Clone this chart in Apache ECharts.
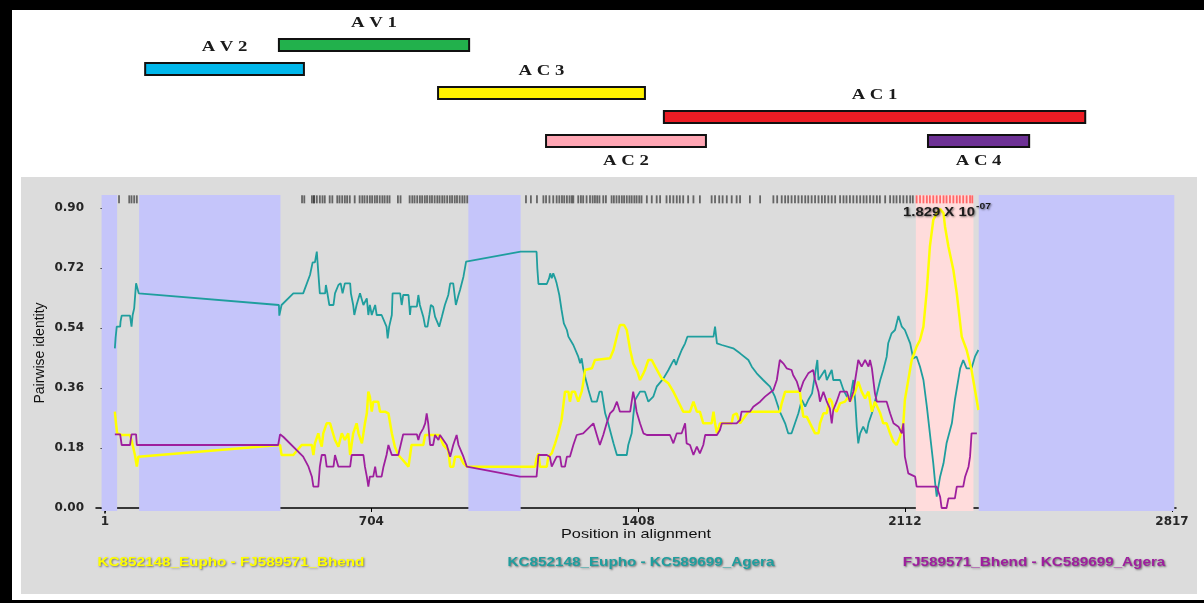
<!DOCTYPE html>
<html><head><meta charset="utf-8">
<script src="https://cdn.jsdelivr.net/npm/echarts@6/dist/echarts.min.js"></script>
<style>html,body{margin:0;padding:0;background:#fff;}#c{width:1204px;height:603px;}</style>
</head><body><div id="c"></div>
<script>
// ---------- data ----------
const xTicks = [1, 704, 1408, 2112, 2817];
const yTicks = [0, 0.18, 0.36, 0.54, 0.72, 0.90];
const pairNames = ['KC852148_Eupho - FJ589571_Bhend', 'KC852148_Eupho - KC589699_Agera', 'FJ589571_Bhend - KC589699_Agera'];

const geneLabels = ['A V 1', 'A V 2', 'A C 3', 'A C 1', 'A C 2', 'A C 4'];
const geneStart = [460, 107, 880, 1476, 1165, 2173];
const geneEnd   = [962, 526, 1426, 2588, 1587, 2440];
const geneRow   = [1, 2, 3, 4, 5, 5];

const unusedRegions = [[-8, 33], [91, 464], [960, 1098], [2307, 2823]];
const recombRegion = [2141, 2293];
const pValueText = '1.829 X 10';
const pValueExp = '-07';

const siteTicks = [38, 65, 71, 78, 85, 552,
 521, 527, 547, 553, 560, 568, 575, 581, 594, 601, 614, 620, 627, 634, 640, 647, 660, 673, 680, 686, 693, 700, 706, 713, 719, 726, 733, 739, 746, 752, 774, 781, 805, 812, 818, 825, 832, 838, 845, 851, 858, 864, 871, 878, 884, 891, 897, 904, 911, 917, 924, 930, 937, 944, 950, 957,
 1112, 1125, 1141, 1158, 1165, 1174, 1184, 1193, 1200, 1207, 1213, 1220, 1227, 1233, 1237, 1250, 1257, 1263, 1272, 1281, 1288, 1294, 1300, 1306, 1316, 1323, 1338, 1344, 1351, 1358, 1365, 1371, 1378, 1385, 1391, 1398, 1404, 1411, 1417, 1431, 1444, 1457, 1466, 1483, 1492, 1501, 1510, 1518, 1527, 1540, 1554, 1571, 1602, 1611, 1622, 1631, 1642, 1655, 1668, 1677, 1703, 1730, 1765, 1775, 1787, 1796, 1804, 1813, 1822, 1831, 1840, 1849, 1857, 1866, 1875, 1884, 1893, 1901, 1910, 1919, 1928, 1941, 1950, 1958, 1967, 1976, 1985, 1994, 2003, 2011, 2020, 2029, 2038, 2046, 2060, 2073, 2082, 2090, 2099, 2108, 2117, 2126, 2133];
const recombTicks = [2143, 2152, 2161, 2170, 2178, 2187, 2196, 2205, 2214, 2222, 2231, 2240, 2249, 2257, 2266, 2275, 2284, 2290];

const tealData = [[27,0.479],[29,0.511],[32,0.544],[41,0.544],[42,0.559],[45,0.577],[67,0.577],[71,0.544],[74,0.579],[78,0.599],[83,0.674],[86,0.674],[90,0.644],
[460,0.609],[461,0.577],[467,0.609],[498,0.644],[524,0.644],[542,0.699],[549,0.737],[555,0.737],[560,0.769],[562,0.737],[566,0.674],[568,0.644],[582,0.644],[584,0.669],[588,0.644],[593,0.609],[604,0.609],[608,0.644],[617,0.669],[623,0.674],[628,0.644],[634,0.674],[648,0.674],[650,0.644],[656,0.609],[659,0.579],[665,0.609],[674,0.644],[683,0.609],[692,0.629],[696,0.579],[700,0.609],[705,0.579],[714,0.609],[718,0.579],[731,0.579],[744,0.544],[747,0.509],[751,0.544],[758,0.579],[760,0.644],[780,0.644],[784,0.609],[788,0.639],[802,0.639],[806,0.579],[808,0.604],[824,0.604],[828,0.639],[832,0.609],[837,0.609],[841,0.574],[846,0.544],[852,0.544],[857,0.579],[861,0.609],[867,0.604],[872,0.574],[876,0.574],[883,0.544],[890,0.574],[898,0.609],[907,0.639],[912,0.674],[920,0.674],[927,0.609],[934,0.639],[938,0.654],[947,0.694],[954,0.739],
[1098,0.769],[1140,0.769],[1142,0.719],[1145,0.672],[1167,0.672],[1173,0.689],[1176,0.704],[1180,0.689],[1184,0.704],[1189,0.689],[1193,0.674],[1200,0.639],[1206,0.594],[1212,0.554],[1220,0.534],[1224,0.514],[1237,0.489],[1250,0.454],[1255,0.434],[1259,0.449],[1263,0.419],[1268,0.394],[1277,0.354],[1286,0.319],[1299,0.319],[1306,0.349],[1312,0.349],[1316,0.319],[1321,0.284],[1329,0.254],[1343,0.194],[1352,0.159],[1378,0.159],[1382,0.189],[1391,0.224],[1395,0.274],[1400,0.324],[1413,0.349],[1426,0.349],[1435,0.319],[1448,0.334],[1457,0.364],[1475,0.389],[1488,0.414],[1497,0.434],[1503,0.446],[1508,0.429],[1514,0.449],[1523,0.474],[1532,0.494],[1538,0.514],[1607,0.514],[1611,0.544],[1616,0.494],[1629,0.489],[1659,0.479],[1677,0.464],[1699,0.444],[1708,0.424],[1721,0.404],[1738,0.384],[1756,0.364],[1769,0.334],[1782,0.289],[1796,0.254],[1804,0.224],[1813,0.224],[1822,0.254],[1831,0.284],[1840,0.324],[1849,0.304],[1857,0.324],[1867,0.344],[1881,0.444],[1884,0.384],[1901,0.414],[1906,0.384],[1919,0.414],[1923,0.384],[1941,0.384],[1950,0.354],[1959,0.334],[1967,0.324],[1976,0.384],[1981,0.319],[1985,0.244],[1989,0.194],[1994,0.224],[2002,0.244],[2011,0.224],[2016,0.254],[2025,0.284],[2033,0.319],[2047,0.384],[2055,0.414],[2064,0.454],[2068,0.494],[2077,0.524],[2086,0.534],[2095,0.576],[2104,0.544],[2112,0.534],[2126,0.494],[2134,0.449],[2143,0.454],[2152,0.424],[2161,0.384],[2170,0.304],[2178,0.224],[2187,0.134],[2192,0.074],[2196,0.034],[2200,0.033],[2205,0.094],[2214,0.134],[2222,0.194],[2236,0.254],[2244,0.324],[2258,0.419],[2266,0.444],[2271,0.449],[2275,0.419],[2288,0.419],[2297,0.454],[2306,0.474]];

const yellowData = [[27,0.289],[30,0.254],[33,0.224],[45,0.219],[67,0.219],[71,0.204],[80,0.159],[85,0.124],[89,0.154],
[463,0.189],[467,0.159],[498,0.159],[520,0.189],[547,0.189],[551,0.159],[555,0.194],[564,0.224],[568,0.204],[573,0.184],[577,0.224],[586,0.254],[595,0.254],[608,0.204],[617,0.184],[626,0.224],[634,0.204],[643,0.224],[648,0.159],[656,0.224],[665,0.254],[670,0.224],[679,0.194],[687,0.254],[692,0.284],[696,0.349],[700,0.334],[705,0.289],[709,0.319],[722,0.319],[727,0.289],[740,0.289],[749,0.284],[758,0.224],[766,0.184],[775,0.159],[787,0.144],[802,0.124],[810,0.189],[841,0.189],[846,0.219],[883,0.219],[894,0.189],[907,0.174],[912,0.124],[920,0.124],[925,0.154],[938,0.154],[947,0.134],[956,0.124],
[1136,0.124],[1140,0.149],[1145,0.164],[1149,0.124],[1167,0.124],[1171,0.154],[1180,0.164],[1189,0.194],[1197,0.224],[1206,0.264],[1215,0.349],[1224,0.349],[1228,0.319],[1233,0.349],[1241,0.349],[1250,0.319],[1259,0.349],[1263,0.374],[1268,0.414],[1286,0.419],[1294,0.444],[1334,0.449],[1343,0.474],[1356,0.534],[1360,0.549],[1371,0.549],[1378,0.534],[1387,0.474],[1395,0.434],[1406,0.409],[1413,0.384],[1422,0.404],[1426,0.414],[1435,0.444],[1444,0.444],[1453,0.424],[1470,0.389],[1488,0.374],[1501,0.349],[1514,0.319],[1527,0.289],[1545,0.289],[1554,0.319],[1563,0.289],[1571,0.289],[1580,0.254],[1602,0.254],[1607,0.289],[1611,0.254],[1616,0.224],[1624,0.254],[1655,0.254],[1659,0.279],[1668,0.284],[1677,0.254],[1699,0.289],[1782,0.289],[1787,0.314],[1796,0.349],[1835,0.349],[1838,0.319],[1844,0.274],[1853,0.274],[1866,0.244],[1875,0.224],[1884,0.224],[1888,0.254],[1897,0.284],[1906,0.284],[1913,0.329],[1919,0.319],[1923,0.299],[1932,0.289],[1941,0.314],[1954,0.319],[1963,0.334],[1967,0.319],[1981,0.349],[1989,0.379],[1998,0.349],[2007,0.329],[2016,0.349],[2025,0.289],[2033,0.319],[2047,0.284],[2055,0.254],[2064,0.254],[2073,0.224],[2082,0.199],[2090,0.189],[2099,0.214],[2108,0.254],[2112,0.324],[2121,0.384],[2130,0.444],[2143,0.484],[2152,0.504],[2161,0.544],[2170,0.654],[2178,0.784],[2187,0.864],[2196,0.884],[2205,0.897],[2214,0.884],[2218,0.844],[2227,0.784],[2240,0.714],[2249,0.644],[2258,0.554],[2262,0.514],[2275,0.474],[2288,0.414],[2297,0.354],[2306,0.294]];

const purpleData = [[27,0.221],[41,0.221],[45,0.189],[67,0.189],[71,0.221],[83,0.221],[85,0.189],
[458,0.189],[463,0.221],[472,0.213],[524,0.154],[538,0.124],[547,0.094],[551,0.064],[564,0.064],[568,0.124],[573,0.159],[582,0.159],[586,0.124],[604,0.124],[608,0.159],[617,0.124],[648,0.124],[652,0.159],[683,0.159],[687,0.124],[692,0.094],[696,0.064],[700,0.094],[709,0.094],[714,0.124],[718,0.094],[731,0.094],[736,0.124],[744,0.159],[749,0.189],[758,0.159],[775,0.159],[788,0.221],[824,0.221],[828,0.204],[832,0.221],[841,0.239],[846,0.254],[850,0.284],[854,0.254],[859,0.189],[867,0.189],[872,0.219],[881,0.204],[885,0.219],[894,0.204],[903,0.189],[912,0.154],[920,0.189],[929,0.219],[934,0.189],[938,0.189],[947,0.154],[956,0.124],
[1096,0.094],[1140,0.094],[1145,0.159],[1167,0.159],[1175,0.154],[1180,0.124],[1184,0.124],[1193,0.154],[1202,0.154],[1206,0.124],[1215,0.124],[1220,0.154],[1228,0.154],[1237,0.189],[1246,0.219],[1263,0.224],[1281,0.244],[1290,0.254],[1299,0.219],[1307,0.189],[1316,0.219],[1325,0.254],[1334,0.284],[1343,0.294],[1352,0.319],[1360,0.289],[1387,0.289],[1395,0.349],[1400,0.319],[1404,0.289],[1413,0.254],[1422,0.224],[1431,0.219],[1492,0.219],[1501,0.194],[1510,0.224],[1523,0.224],[1532,0.254],[1536,0.194],[1545,0.189],[1554,0.159],[1563,0.184],[1571,0.164],[1580,0.189],[1585,0.219],[1616,0.219],[1624,0.234],[1629,0.254],[1668,0.254],[1677,0.264],[1681,0.289],[1703,0.289],[1712,0.304],[1730,0.319],[1743,0.334],[1765,0.354],[1774,0.384],[1782,0.444],[1791,0.434],[1800,0.419],[1813,0.414],[1817,0.399],[1827,0.379],[1835,0.349],[1844,0.379],[1857,0.404],[1870,0.414],[1875,0.384],[1884,0.349],[1888,0.319],[1897,0.349],[1906,0.319],[1914,0.299],[1919,0.254],[1923,0.294],[1932,0.319],[1941,0.349],[1959,0.349],[1967,0.319],[1976,0.349],[1985,0.414],[1989,0.444],[1998,0.424],[2007,0.444],[2016,0.424],[2020,0.444],[2025,0.419],[2033,0.344],[2038,0.319],[2064,0.319],[2073,0.284],[2082,0.254],[2095,0.244],[2104,0.224],[2108,0.254],[2112,0.154],[2121,0.104],[2139,0.094],[2143,0.064],[2196,0.064],[2205,0.034],[2209,0.0],[2222,0.0],[2227,0.029],[2244,0.029],[2249,0.064],[2266,0.064],[2271,0.094],[2280,0.124],[2284,0.154],[2288,0.224],[2302,0.224]];

// ---------- styles ----------
const pairColors = ['#ffff00', '#1f9e9e', '#9e1f9e'];
const geneColors = ['#22b14c', '#00b7eb', '#fff200', '#ed1c24', '#ffa6b4', '#6d3195'];
const geneLabelBelow = [false, false, false, false, true, true];
const X_MIN = -22.75, X_MAX = 2827.56;
const shadow = {textShadowColor: 'rgba(0,0,0,0.5)', textShadowBlur: 2, textShadowOffsetX: 1, textShadowOffsetY: 1};

const chart = echarts.init(document.getElementById('c'), null, {renderer: 'canvas'});

const markAreaData = unusedRegions.map(r => [{xAxis: r[0], itemStyle: {color: '#c5c5fa'}}, {xAxis: r[1]}]);
markAreaData.push([{xAxis: recombRegion[0], itemStyle: {color: '#ffdcdc'}}, {xAxis: recombRegion[1]}]);

const option = {
  animation: false,
  backgroundColor: '#ffffff',
  grid: [
    {left: 96, right: 28, top: 195, bottom: 92},
    {left: 96, right: 28, top: 208, bottom: 90},
    {left: 96, right: 28, top: 21, bottom: 438}
  ],
  xAxis: [
    {gridIndex: 0, type: 'value', min: X_MIN, max: X_MAX, show: false},
    {gridIndex: 1, type: 'value', min: X_MIN, max: X_MAX,
      axisLine: {show: true, lineStyle: {color: '#000', width: 1.5}},
      splitLine: {show: false},
      axisTick: {show: true, customValues: xTicks, length: 4, lineStyle: {color: '#000'}},
      axisLabel: {customValues: xTicks, margin: 3, fontFamily: 'DejaVu Sans', fontWeight: 'bold', fontSize: 12, color: '#262626',
        formatter: v => String(Math.round(v))}},
    {gridIndex: 2, type: 'value', min: X_MIN, max: X_MAX, show: false}
  ],
  yAxis: [
    {gridIndex: 0, type: 'value', min: -0.009, max: 0.939, show: false},
    {gridIndex: 1, type: 'value', min: -0.015, max: 0.9,
      axisLine: {show: true, lineStyle: {color: '#000', width: 1.5}},
      splitLine: {show: false},
      axisTick: {show: true, customValues: yTicks, length: 4, lineStyle: {color: '#000'}},
      axisLabel: {customValues: yTicks, margin: 12, fontFamily: 'DejaVu Sans', fontWeight: 'bold', fontSize: 12, color: '#262626',
        formatter: v => Number(v).toFixed(2)}},
    {gridIndex: 2, type: 'value', min: 0, max: 6, inverse: true, show: false}
  ],
  graphic: [
    {type: 'rect', z: -10, shape: {x: 21, y: 177, width: 1176, height: 417}, style: {fill: '#dcdcdc'}},
    {type: 'rect', z: 50, shape: {x: 0, y: 0, width: 1204, height: 10}, style: {fill: '#000'}},
    {type: 'rect', z: 50, shape: {x: 0, y: 0, width: 12, height: 603}, style: {fill: '#000'}},
    {type: 'rect', z: 50, shape: {x: 0, y: 600, width: 1204, height: 3}, style: {fill: '#000'}},
    {type: 'text', z: 60, x: 40, y: 353, rotation: Math.PI / 2,
      style: {text: 'Pairwise identity', font: '14px "Liberation Sans"', fill: '#111', align: 'center', verticalAlign: 'middle'}},
    {type: 'text', z: 60, x: 636, y: 534, scaleX: 1.25,
      style: {text: 'Position in alignment', font: '13px "Liberation Sans"', fill: '#111', align: 'center', verticalAlign: 'middle'}},
    {type: 'text', z: 60, x: 231, y: 563, scaleX: 1.27,
      style: Object.assign({text: pairNames[0], font: 'bold 12px "Liberation Sans"', fill: pairColors[0], align: 'center', verticalAlign: 'middle'}, shadow)},
    {type: 'text', z: 60, x: 641, y: 563, scaleX: 1.27,
      style: Object.assign({text: pairNames[1], font: 'bold 12px "Liberation Sans"', fill: pairColors[1], align: 'center', verticalAlign: 'middle'}, shadow)},
    {type: 'text', z: 60, x: 1034, y: 563, scaleX: 1.27,
      style: Object.assign({text: pairNames[2], font: 'bold 12px "Liberation Sans"', fill: pairColors[2], align: 'center', verticalAlign: 'middle'}, shadow)},
    {type: 'text', z: 60, x: 903, y: 213, scaleX: 1.24,
      style: Object.assign({text: pValueText, font: 'bold 12px "Liberation Sans"', fill: '#1c1c1c', align: 'left', verticalAlign: 'middle'}, shadow)},
    {type: 'text', z: 60, x: 976, y: 207, scaleX: 1.15,
      style: Object.assign({text: pValueExp, font: 'bold 9px "Liberation Sans"', fill: '#1c1c1c', align: 'left', verticalAlign: 'middle'}, shadow)}
  ],
  series: [
    {type: 'line', name: pairNames[1], xAxisIndex: 0, yAxisIndex: 0, data: tealData, showSymbol: false, z: 3,
      lineStyle: {color: pairColors[1], width: 1.8}, itemStyle: {color: pairColors[1]},
      markArea: {silent: true, data: markAreaData}},
    {type: 'line', name: pairNames[0], xAxisIndex: 0, yAxisIndex: 0, data: yellowData, showSymbol: false, z: 4,
      lineStyle: {color: pairColors[0], width: 2.5}, itemStyle: {color: pairColors[0]}},
    {type: 'line', name: pairNames[2], xAxisIndex: 0, yAxisIndex: 0, data: purpleData, showSymbol: false, z: 5,
      lineStyle: {color: pairColors[2], width: 1.8}, itemStyle: {color: pairColors[2]}},
    {type: 'scatter', xAxisIndex: 0, yAxisIndex: 0, data: siteTicks.map(p => [p, 0.926]), symbol: 'rect', symbolSize: [1.8, 8], z: 6,
      itemStyle: {color: 'rgba(35,35,35,0.8)'}, silent: true},
    {type: 'scatter', xAxisIndex: 0, yAxisIndex: 0, data: recombTicks.map(p => [p, 0.926]), symbol: 'rect', symbolSize: [1.8, 8], z: 6,
      itemStyle: {color: '#ff4a4a'}, silent: true},
    {type: 'custom', xAxisIndex: 2, yAxisIndex: 2, z: 10, silent: true,
      data: geneStart.map((s, i) => [s, geneEnd[i], geneRow[i]]),
      encode: {x: [0, 1], y: 2},
      renderItem: function (params, api) {
        const i = params.dataIndex;
        const s = api.coord([api.value(0), api.value(2)]);
        const e = api.coord([api.value(1), api.value(2)]);
        const h = 12;
        const below = geneLabelBelow[i];
        return {type: 'group', children: [
          {type: 'rect', shape: {x: s[0], y: s[1] - h / 2, width: e[0] - s[0], height: h},
            style: {fill: geneColors[i], stroke: '#111', lineWidth: 2}},
          {type: 'text', x: (s[0] + e[0]) / 2, y: s[1] + (below ? 20 : -22), scaleX: 1.25,
            style: {text: geneLabels[i], font: 'bold 15px "Liberation Serif"', fill: '#1a1a1a', align: 'center', verticalAlign: 'middle'}}
        ]};
      }}
  ]
};
chart.setOption(option);
</script>
</body></html>
